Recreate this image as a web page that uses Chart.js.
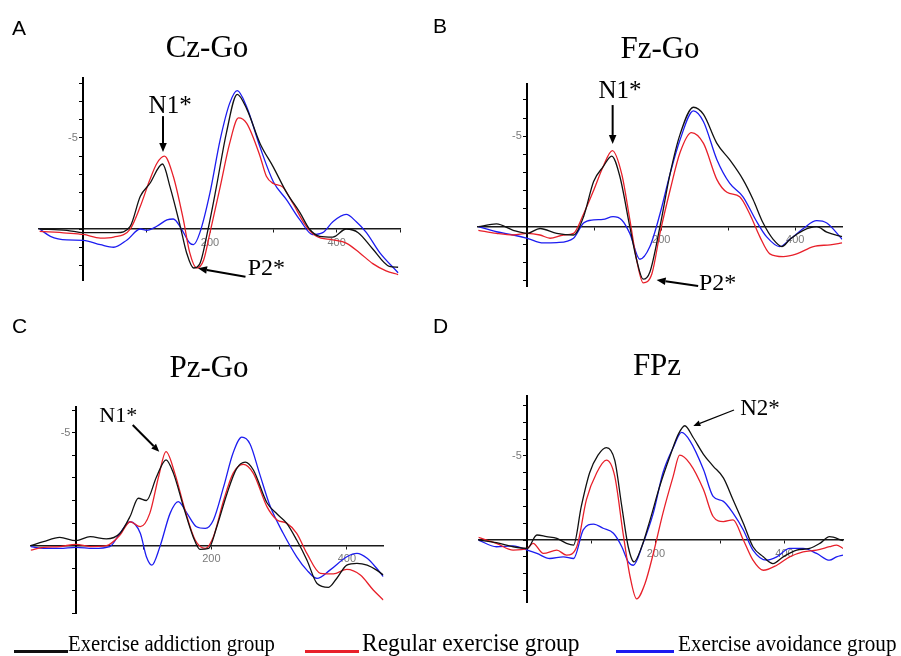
<!DOCTYPE html>
<html>
<head>
<meta charset="utf-8">
<script src="https://cdn.jsdelivr.net/npm/chart.js@4.4.1/dist/chart.umd.min.js"></script>
<style>
  html, body { margin:0; padding:0; background:#fff; }
  body { width:901px; height:656px; position:relative; overflow:hidden; }
  canvas { position:absolute; left:0; top:0; }
  .letter { position:absolute; font-family:"Liberation Sans", Arial, sans-serif; font-size:21px; line-height:1; color:#000; white-space:nowrap; }
  .title { position:absolute; font-family:"Liberation Serif", "Times New Roman", serif; font-size:31px; line-height:1; color:#000; white-space:nowrap; transform:translateX(-50%); }
  .leg { position:absolute; font-family:"Liberation Serif", "Times New Roman", serif; line-height:1; color:#000; white-space:nowrap; transform-origin:0 0; }
  .legline { position:absolute; height:2.5px; }
</style>
</head>
<body>
<canvas id="cA" width="901" height="656"></canvas>
<canvas id="cB" width="901" height="656"></canvas>
<canvas id="cC" width="901" height="656"></canvas>
<canvas id="cD" width="901" height="656"></canvas>

<div class="letter" style="left:12px; top:17px;">A</div>
<div class="letter" style="left:433px; top:15px;">B</div>
<div class="letter" style="left:12px; top:315px;">C</div>
<div class="letter" style="left:433px; top:315px;">D</div>

<div class="title" id="tA" style="left:207px; top:31px;"></div>
<div class="title" id="tB" style="left:660px; top:32px;"></div>
<div class="title" id="tC" style="left:209px; top:351px;"></div>
<div class="title" id="tD" style="left:657px; top:349px;"></div>

<div class="legline" style="left:14px; width:54px; top:650px; background:#111;"></div>
<div class="leg" id="l0" style="left:68px; top:633px; font-size:22.5px; transform:scaleX(0.92);"></div>
<div class="legline" style="left:305px; width:54px; top:650px; background:#e8202a;"></div>
<div class="leg" id="l1" style="left:362px; top:630px; font-size:25.5px; transform:scaleX(0.92);"></div>
<div class="legline" style="left:616px; width:58px; top:650px; background:#1c1cf0;"></div>
<div class="leg" id="l2" style="left:678px; top:632px; font-size:23.5px; transform:scaleX(0.9);"></div>

<script>
// ---------- labels ----------
const panelTitles = ['Cz-Go', 'Fz-Go', 'Pz-Go', 'FPz'];
const seriesNames = ['Exercise addiction group', 'Regular exercise group', 'Exercise avoidance group'];
const yLabelTicks = [-5];
const xLabelTicks = [200, 400];

// ---------- Panel A: Cz-Go (time ms / amplitude µV) ----------
const czAddT = [-69,-26,0,32,53,74,90,105,125,137,153,163,174,184,197,210,226,243,258,279,300,321,342,357,373,394,415,434,457,483,497];
const czAddV = [0,0.07,0.2,0.2,0.2,-0.15,-1.8,-2.5,-3.57,-2.3,-0.15,1.3,2.14,1.9,0,-2.3,-5.3,-7.4,-6.6,-4.7,-3.4,-2.0,-0.9,0,0.4,0.44,0,0.2,1.1,2.05,2.1];
const czRegT = [-69,-26,0,27,48,74,90,105,116,128,142,158,168,179,190,200,216,231,245,258,279,289,300,315,331,352,368,394,415,436,457,478,497];
const czRegV = [0.13,0.22,0.3,0.5,0.44,0,-1.25,-2.7,-3.6,-4.0,-2.9,-0.5,1.3,2.14,1.7,0.2,-2.3,-4.7,-6.1,-5.8,-4.0,-2.9,-2.5,-2.3,-1.4,-0.15,0.4,0.6,0.77,1.3,1.9,2.3,2.5];
const czAvoT = [-69,-52,-26,0,27,48,69,90,100,116,132,142,155,168,174,184,200,216,231,243,258,279,300,321,342,362,378,394,415,431,447,468,497];
const czAvoV = [0,0.4,0.6,0.62,0.86,1.0,0.6,0,0.07,-0.15,-0.5,-0.55,0,0.77,0.86,0.2,-2.0,-4.9,-6.9,-7.6,-6.7,-4.5,-2.6,-1.6,-0.5,0.3,0.2,-0.4,-0.8,-0.4,0.2,1.3,2.4];

// ---------- Panel B: Fz-Go ----------
const fzAddT = [-73,-46,-21,0,19,44,69,84,99,113,126,138,153,163,173,183,198,213,228,248,263,283,302,322,337,352,367,380,392,412,432,447,470];
const fzAddV = [0,-0.15,0.2,0.37,0.1,0.37,0.46,-0.55,-2.5,-3.3,-3.9,-2.8,0,1.8,2.9,2.5,0,-2.9,-5.1,-6.6,-6.2,-4.6,-3.7,-2.6,-1.5,-0.2,0.7,1.1,0.7,0.2,0,0.3,0.55];
const fzRegT = [-73,-46,-21,0,19,34,54,69,84,99,113,127,141,153,163,173,186,198,213,228,245,263,283,298,317,332,347,362,382,402,427,452,470];
const fzRegV = [0.2,0.37,0.46,0.37,0.46,0.64,0.46,0.37,-0.7,-2.0,-3.3,-4.2,-2.9,-0.4,1.8,3.1,2.6,0.37,-2.0,-4.1,-5.2,-4.6,-2.6,-1.9,-1.65,-0.7,0.55,1.5,1.65,1.5,1.1,1.0,0.9];
const fzAvoT = [-73,-46,-21,0,24,44,69,84,99,113,128,141,153,168,183,198,213,228,248,263,283,302,322,341,357,377,392,412,432,447,470];
const fzAvoV = [0,0.28,0.46,0.64,0.9,0.88,0.64,-0.2,-0.37,-0.4,-0.55,-0.37,0.37,1.8,1.1,-0.7,-2.9,-4.8,-6.4,-5.8,-3.7,-2.4,-1.65,-0.37,0.55,1.1,0.7,0.1,-0.33,-0.2,0.7];

// ---------- Panel C: Pz-Go ----------
const pzAddT = [-67,-48,-24,0,21,45,65,80,92,104,119,133,144,159,173,183,196,208,223,237,250,262,282,297,311,326,341,356,373,385,400,415,430,444,454];
const pzAddV = [0,-0.18,-0.37,-0.22,-0.4,-0.3,-0.55,-1.3,-2.1,-2.0,-3.05,-3.8,-3.2,-1.7,-0.4,0.16,0.12,-0.84,-2.3,-3.4,-3.7,-3.35,-1.9,-1.4,-1.0,-0.25,0.63,1.67,1.84,1.45,0.86,0.78,0.86,1.08,1.3];
const pzRegT = [-67,-48,-24,0,21,45,65,80,95,109,122,133,146,161,176,191,203,218,232,247,262,282,297,311,326,341,361,380,400,420,439,454];
const pzRegV = [0.2,0.07,0.04,-0.06,0.04,0,-0.47,-1.06,-0.84,-1.43,-3.05,-4.16,-3.2,-1.58,-0.25,0.12,-0.4,-2.0,-3.2,-3.6,-3.2,-1.73,-1.14,-1.0,-0.55,0.34,1.22,1.25,1.05,1.3,1.96,2.4];
const pzAvoT = [-67,-48,-24,0,26,50,65,80,95,104,112,124,139,151,164,178,191,203,218,232,245,257,271,287,306,326,341,356,375,400,415,430,444,454];
const pzAvoV = [0.04,0.12,0.12,0.07,0.12,0.04,-0.55,-1.06,-0.55,0.49,0.86,0.04,-1.43,-1.95,-1.43,-0.84,-0.77,-1.14,-2.6,-4.1,-4.8,-4.5,-3.2,-1.73,-0.55,0.49,1.08,1.45,1.08,0.49,0.34,0.56,1.0,1.37];

// ---------- Panel D: FPz ----------
const fpAddT = [-76,-48,-22,0,15,30,46,61,72,84,97,110,123,136,147,157,166,178,191,206,222,235,245,258,274,289,305,320,336,351,367,382,398,419,439,455,470,491];
const fpAddV = [0,0.16,0.4,0.5,-0.3,-0.2,-0.1,0.2,0.3,-2.0,-4.0,-5.05,-5.5,-4.75,-2.0,0.4,1.3,0.4,-1.2,-3.2,-5.0,-6.3,-6.8,-6.1,-5.1,-4.4,-3.7,-2.4,-1.0,0.4,1.0,1.4,1.0,0.6,0.5,0.2,-0.2,0.04];
const fpRegT = [-76,-48,-22,0,9,25,46,61,77,92,108,123,136,149,160,170,183,196,211,227,237,253,274,289,305,320,336,351,367,388,408,429,450,470,481,491];
const fpRegV = [-0.16,0.2,0.6,0.5,0.2,0.8,0.6,0.9,0.4,-2.4,-4.0,-4.75,-3.8,-0.4,2.2,3.5,2.6,0.8,-1.6,-3.8,-5.05,-4.55,-3.0,-1.4,-1.1,-1.2,0,1.2,1.8,1.5,1.0,0.7,0.6,0.4,0.3,0.5];
const fpAvoT = [-76,-48,-22,0,15,35,56,72,87,103,118,134,147,157,165,180,196,211,227,240,253,274,289,305,320,336,351,372,388,408,429,450,470,481,491];
const fpAvoV = [0,0.4,0.35,0.6,0.8,1.1,1.0,1.1,-0.6,-0.95,-0.7,-0.4,0.4,1.3,1.5,0.2,-1.6,-4.0,-5.5,-6.4,-5.9,-4.2,-2.6,-2.3,-1.6,-0.6,0.6,1.2,1.0,0.5,0.5,0.8,1.2,1.0,0.9];

// ---------- annotations (placed in data coordinates: [ms, µV]) ----------
const notesA = [
  { text:'N1*', at:[137,-6.73], from:[125.8,-6.2], to:[125.8,-4.23], size:25, lw:2, head:9 },
  { text:'P2*', at:[289,2.2], from:[256,2.62], to:[181,2.16], size:24, lw:2, head:9 }
];
const notesB = [
  { text:'N1*', at:[138.4,-7.5], from:[127.4,-6.72], to:[127.4,-4.57], size:25, lw:2, head:9 },
  { text:'P2*', at:[284,3.17], from:[255,3.28], to:[193,2.94], size:24, lw:2, head:9 }
];
const notesC = [
  { text:'N1*', at:[62.5,-5.75], from:[83.8,-5.34], to:[123,-4.16], size:22, lw:2, head:8 }
];
const notesD = [
  { text:'N2*', at:[362,-7.8], from:[321.5,-7.74], to:[258.2,-6.79], size:23, lw:1.2, head:7 }
];

const colors = ['#111111', '#e8202a', '#1c1cf0'];

const panels = [
  { canvas:'cA', title:'tA', xMin:-70, xMax:500, yMin:-8.3, yMax:2.8, area:[39,77.9,400,280],
    series:[[czAddT,czAddV],[czRegT,czRegV],[czAvoT,czAvoV]], notes:notesA },
  { canvas:'cB', title:'tB', xMin:-74, xMax:470, yMin:-7.9, yMax:3.3, area:[477.7,83.7,842.2,286.4],
    series:[[fzAddT,fzAddV],[fzRegT,fzRegV],[fzAvoT,fzAvoV]], notes:notesB },
  { canvas:'cC', title:'tC', xMin:-67, xMax:454, yMin:-6.15, yMax:3.0, area:[30.6,406.7,383.4,613.5],
    series:[[pzAddT,pzAddV],[pzRegT,pzRegV],[pzAvoT,pzAvoV]], notes:notesC },
  { canvas:'cD', title:'tD', xMin:-76, xMax:491, yMin:-8.6, yMax:3.7, area:[478.4,395.5,843,602.2],
    series:[[fpAddT,fpAddV],[fpRegT,fpRegV],[fpAvoT,fpAvoV]], notes:notesD }
];

panels.forEach((p, i) => { document.getElementById(p.title).textContent = panelTitles[i]; });
seriesNames.forEach((n, i) => { document.getElementById('l' + i).textContent = n; });

function drawArrow(ctx, x1, y1, x2, y2, lw, head) {
  const ang = Math.atan2(y2 - y1, x2 - x1);
  const bx = x2 - head * Math.cos(ang), by = y2 - head * Math.sin(ang);
  ctx.save();
  ctx.strokeStyle = '#000'; ctx.fillStyle = '#000'; ctx.lineWidth = lw;
  ctx.beginPath(); ctx.moveTo(x1, y1); ctx.lineTo(bx, by); ctx.stroke();
  const w = head * 0.42;
  ctx.beginPath();
  ctx.moveTo(x2, y2);
  ctx.lineTo(bx + w * Math.sin(ang), by - w * Math.cos(ang));
  ctx.lineTo(bx - w * Math.sin(ang), by + w * Math.cos(ang));
  ctx.closePath(); ctx.fill();
  ctx.restore();
}

function makeNotesPlugin(notes) {
  return {
    id: 'erpNotes',
    afterDraw(chart) {
      const { ctx, scales: { x, y } } = chart;
      notes.forEach(n => {
        drawArrow(ctx, x.getPixelForValue(n.from[0]), y.getPixelForValue(n.from[1]),
                  x.getPixelForValue(n.to[0]), y.getPixelForValue(n.to[1]), n.lw, n.head);
        ctx.save();
        ctx.fillStyle = '#000';
        ctx.font = n.size + 'px "Liberation Serif", "Times New Roman", serif';
        ctx.textAlign = 'center'; ctx.textBaseline = 'middle';
        ctx.fillText(n.text, x.getPixelForValue(n.at[0]), y.getPixelForValue(n.at[1]));
        ctx.restore();
      });
    }
  };
}

panels.forEach(p => {
  const [L, T, R, B] = p.area;
  const datasets = p.series.map((s, k) => ({
    label: seriesNames[k],
    data: s[0].map((t, j) => ({ x: t, y: s[1][j] })),
    borderColor: colors[k],
    backgroundColor: colors[k],
    borderWidth: 1.3,
    pointRadius: 0,
    fill: false,
    cubicInterpolationMode: 'monotone'
  }));
  new Chart(document.getElementById(p.canvas), {
    type: 'line',
    data: { datasets },
    options: {
      responsive: false,
      animation: false,
      devicePixelRatio: 1,
      layout: { padding: { left: L, top: T, right: 901 - R, bottom: 656 - B } },
      plugins: { legend: { display: false }, tooltip: { enabled: false }, title: { display: false } },
      scales: {
        x: {
          type: 'linear', min: p.xMin, max: p.xMax,
          position: { y: 0 },
          afterFit: s => { s.height = 0; },
          border: { display: true, color: '#1a1a1a', width: 1.5 },
          grid: { drawOnChartArea: false, drawTicks: true, tickLength: 3, color: '#1a1a1a', lineWidth: 1 },
          ticks: {
            stepSize: 100, autoSkip: false, maxRotation: 0, minRotation: 0, includeBounds: false,
            padding: 4, color: '#7a7a7a', font: { family: 'Liberation Sans', size: 11 },
            callback: v => xLabelTicks.includes(v) ? String(v) : ''
          }
        },
        y: {
          type: 'linear', reverse: true, min: p.yMin, max: p.yMax,
          position: { x: 0 },
          afterFit: s => { s.width = 0; },
          border: { display: true, color: '#000', width: 2 },
          grid: { drawOnChartArea: false, drawTicks: true, tickLength: 3, color: '#000', lineWidth: 1 },
          ticks: {
            stepSize: 1, autoSkip: false, includeBounds: false, maxTicksLimit: 40,
            color: '#7a7a7a', font: { family: 'Liberation Sans', size: 11 },
            callback: v => yLabelTicks.includes(v) ? String(v) + '\u2002' : ''
          }
        }
      }
    },
    plugins: [makeNotesPlugin(p.notes)]
  });
});
</script>
</body>
</html>
